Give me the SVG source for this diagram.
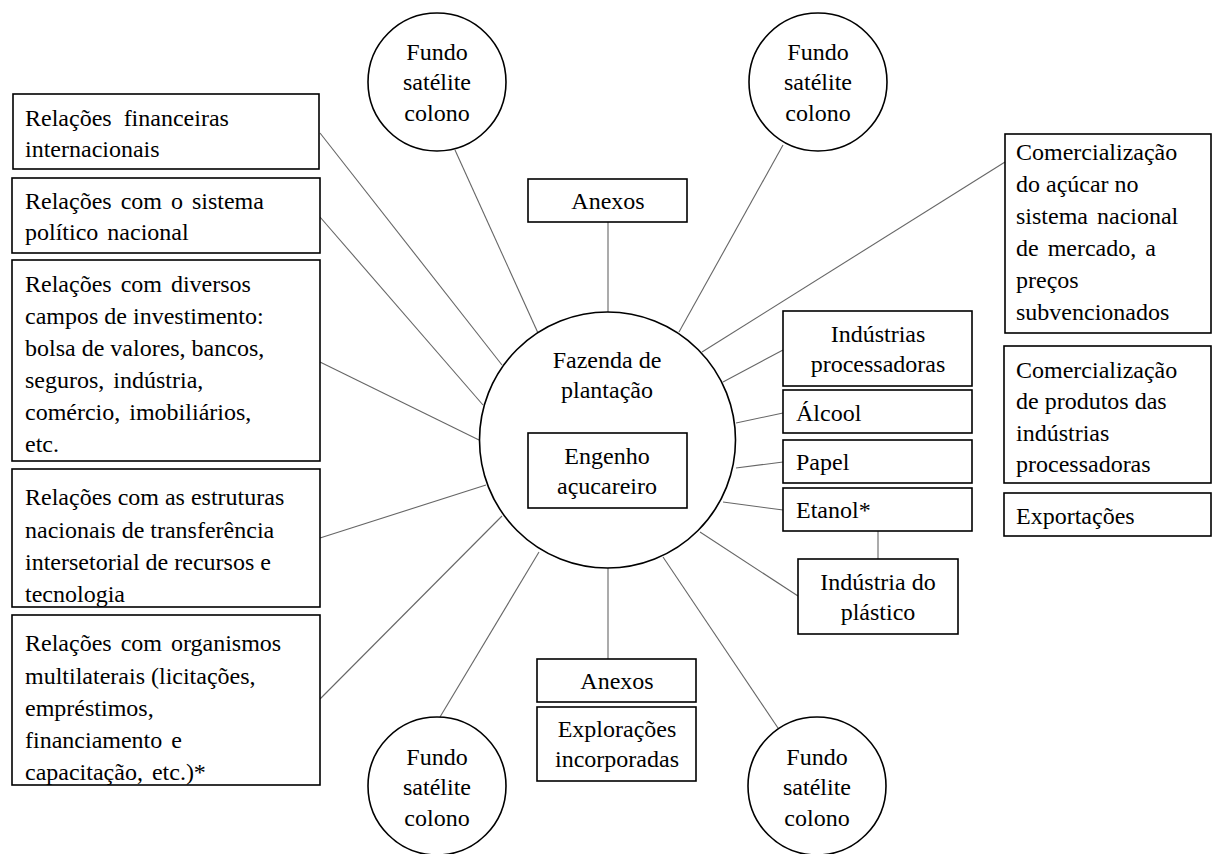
<svg xmlns="http://www.w3.org/2000/svg" width="1214" height="854" viewBox="0 0 1214 854">
<style>
.box{fill:#fff;stroke:#000;stroke-width:1.6}
.circ{fill:#fff;stroke:#000;stroke-width:1.6}
.t{font-family:"Liberation Serif","Times New Roman",serif;font-size:24px;fill:#000}
.c{text-anchor:middle}
.ln{stroke:#666;stroke-width:1.1;fill:none}
</style>
<rect width="1214" height="854" fill="#fff"/>
<g id="connectors">
<line class="ln" x1="455" y1="150" x2="538" y2="333"/>
<line class="ln" x1="783" y1="145" x2="679" y2="332"/>
<line class="ln" x1="608" y1="222" x2="608" y2="312"/>
<line class="ln" x1="1005" y1="162" x2="702" y2="352"/>
<line class="ln" x1="783" y1="350" x2="723" y2="382"/>
<line class="ln" x1="783" y1="413" x2="736" y2="423"/>
<line class="ln" x1="783" y1="462" x2="736" y2="468"/>
<line class="ln" x1="783" y1="510" x2="723" y2="502"/>
<line class="ln" x1="878" y1="531" x2="878" y2="559"/>
<line class="ln" x1="798" y1="596" x2="700" y2="532"/>
<line class="ln" x1="663" y1="557" x2="778" y2="728"/>
<line class="ln" x1="608" y1="568" x2="608" y2="659"/>
<line class="ln" x1="539" y1="552" x2="440" y2="717"/>
<line class="ln" x1="320" y1="699" x2="502" y2="516"/>
<line class="ln" x1="320" y1="538" x2="486" y2="485"/>
<line class="ln" x1="320" y1="362" x2="479" y2="440"/>
<line class="ln" x1="320" y1="217" x2="483" y2="405"/>
<line class="ln" x1="320" y1="133" x2="502" y2="365"/>
</g>
<g id="fazenda">
<circle class="circ" cx="607.5" cy="440" r="128"/>
<text class="t c" x="607" y="368">Fazenda de</text>
<text class="t c" x="607" y="398">plantação</text>
</g>
<g id="engenho">
<rect class="box" x="528" y="433" width="159" height="75"/>
<text class="t c" x="607" y="464">Engenho</text>
<text class="t c" x="607" y="494">açucareiro</text>
</g>
<g id="fundo-tl">
<circle class="circ" cx="437" cy="82" r="69"/>
<text class="t c" x="437" y="60">Fundo</text>
<text class="t c" x="437" y="90">satélite</text>
<text class="t c" x="437" y="121">colono</text>
</g>
<g id="fundo-tr">
<circle class="circ" cx="818" cy="82" r="69"/>
<text class="t c" x="818" y="60">Fundo</text>
<text class="t c" x="818" y="90">satélite</text>
<text class="t c" x="818" y="121">colono</text>
</g>
<g id="fundo-bl">
<circle class="circ" cx="437" cy="786" r="69"/>
<text class="t c" x="437" y="765">Fundo</text>
<text class="t c" x="437" y="795">satélite</text>
<text class="t c" x="437" y="826">colono</text>
</g>
<g id="fundo-br">
<circle class="circ" cx="817" cy="786" r="69"/>
<text class="t c" x="817" y="765">Fundo</text>
<text class="t c" x="817" y="795">satélite</text>
<text class="t c" x="817" y="826">colono</text>
</g>
<g id="anexos-top">
<rect class="box" x="528" y="179" width="159" height="43"/>
<text class="t c" x="608" y="209">Anexos</text>
</g>
<g id="anexos-bottom">
<rect class="box" x="537" y="659" width="159" height="43"/>
<text class="t c" x="617" y="689">Anexos</text>
</g>
<g id="exploracoes">
<rect class="box" x="537" y="707" width="159" height="74"/>
<text class="t c" x="617" y="737">Explorações</text>
<text class="t c" x="617" y="767">incorporadas</text>
</g>
<g id="rel-financeiras">
<rect class="box" x="13" y="94" width="306" height="75"/>
<text class="t" x="25" y="126" word-spacing="6">Relações financeiras</text>
<text class="t" x="25" y="157">internacionais</text>
</g>
<g id="rel-politico">
<rect class="box" x="12" y="178" width="308" height="75"/>
<text class="t" x="25" y="209" word-spacing="3">Relações com o sistema</text>
<text class="t" x="25" y="240" word-spacing="3">político nacional</text>
</g>
<g id="rel-investimento">
<rect class="box" x="12" y="260" width="308" height="201"/>
<text class="t" x="25" y="292" word-spacing="3">Relações com diversos</text>
<text class="t" x="25" y="324">campos de investimento:</text>
<text class="t" x="25" y="356">bolsa de valores, bancos,</text>
<text class="t" x="25" y="388" word-spacing="3">seguros, indústria,</text>
<text class="t" x="25" y="420" word-spacing="3">comércio, imobiliários,</text>
<text class="t" x="25" y="452">etc.</text>
</g>
<g id="rel-estruturas">
<rect class="box" x="12" y="469" width="308" height="138"/>
<text class="t" x="25" y="505">Relações com as estruturas</text>
<text class="t" x="25" y="538">nacionais de transferência</text>
<text class="t" x="25" y="570">intersetorial de recursos e</text>
<text class="t" x="25" y="602">tecnologia</text>
</g>
<g id="rel-multilaterais">
<rect class="box" x="12" y="615" width="308" height="170"/>
<text class="t" x="25" y="651" word-spacing="3">Relações com organismos</text>
<text class="t" x="25" y="684">multilaterais (licitações,</text>
<text class="t" x="25" y="716">empréstimos,</text>
<text class="t" x="25" y="748" word-spacing="3">financiamento e</text>
<text class="t" x="25" y="780" word-spacing="3">capacitação, etc.)*</text>
</g>
<g id="industrias">
<rect class="box" x="783" y="311" width="189" height="75"/>
<text class="t c" x="878" y="342">Indústrias</text>
<text class="t c" x="878" y="372">processadoras</text>
</g>
<g id="alcool">
<rect class="box" x="783" y="390" width="189" height="43"/>
<text class="t" x="796" y="421">Álcool</text>
</g>
<g id="papel">
<rect class="box" x="783" y="440" width="189" height="43"/>
<text class="t" x="796" y="470">Papel</text>
</g>
<g id="etanol">
<rect class="box" x="783" y="488" width="189" height="43"/>
<text class="t" x="796" y="518">Etanol*</text>
</g>
<g id="plastico">
<rect class="box" x="798" y="559" width="160" height="75"/>
<text class="t c" x="878" y="590">Indústria do</text>
<text class="t c" x="878" y="620">plástico</text>
</g>
<g id="com-acucar">
<rect class="box" x="1005" y="134" width="206" height="199"/>
<text class="t" x="1016" y="160">Comercialização</text>
<text class="t" x="1016" y="192">do açúcar no</text>
<text class="t" x="1016" y="224" word-spacing="3">sistema nacional</text>
<text class="t" x="1016" y="256" word-spacing="3">de mercado, a</text>
<text class="t" x="1016" y="288">preços</text>
<text class="t" x="1016" y="320">subvencionados</text>
</g>
<g id="com-produtos">
<rect class="box" x="1004" y="346" width="207" height="137"/>
<text class="t" x="1016" y="378">Comercialização</text>
<text class="t" x="1016" y="409">de produtos das</text>
<text class="t" x="1016" y="441">indústrias</text>
<text class="t" x="1016" y="472">processadoras</text>
</g>
<g id="exportacoes">
<rect class="box" x="1004" y="493" width="207" height="43"/>
<text class="t" x="1016" y="524">Exportações</text>
</g>
</svg>
